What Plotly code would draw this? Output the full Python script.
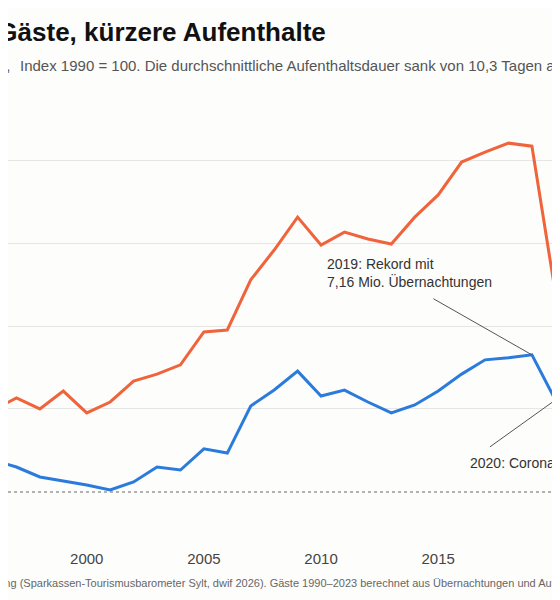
import plotly.graph_objects as go

years = list(range(1990, 2026))
# Index 1990 = 100
gaeste = [100, 105, 110, 115, 118, 122, 124.7, 128.3, 125.0, 130.4, 123.8, 127.1,
          133.4, 135.5, 138.3, 148.2, 148.8, 163.9, 172.9, 182.8, 174.4, 178.3,
          176.2, 174.7, 182.8, 189.5, 199.4, 202.4, 205.1, 204.2, 160.0, 185.0,
          210.0, 215.0, 220.0, 222.0]
uebernachtungen = [100, 104, 108, 112, 113, 111, 109.6, 107.5, 104.5, 103.3, 102.1,
                   100.6, 103.0, 107.5, 106.6, 113.0, 111.7, 125.9, 130.7, 136.4,
                   128.9, 130.7, 127.1, 123.8, 126.2, 130.4, 135.5, 139.8, 140.4,
                   141.3, 127.7, 136.0, 140.0, 139.0, 138.0, 137.0]

title = "Mehr Gäste, kürzere Aufenthalte"
sub_left = "Gäste und Übernachtungen,"
sub_right = "Index 1990 = 100. Die durchschnittliche Aufenthaltsdauer sank von 10,3 Tagen auf 6,6 Tage."
source = ("Quelle: Sylt Marketing (Sparkassen-Tourismusbarometer Sylt, dwif 2026). "
          "Gäste 1990–2023 berechnet aus Übernachtungen und Aufenthaltsdauer.")

W = 560
font = "Liberation Sans, Arial, sans-serif"

fig = go.Figure()
fig.add_trace(go.Scatter(x=years, y=gaeste, mode="lines", name="Gäste",
                         line=dict(color="#f0643c", width=3)))
fig.add_trace(go.Scatter(x=years, y=uebernachtungen, mode="lines", name="Übernachtungen",
                         line=dict(color="#2b7bdc", width=3)))

# Baseline 100
fig.add_hline(y=100, line=dict(color="#999999", width=1.5, dash="dot"), layer="below")

ann = []
ann.append(dict(text=f"<b>{title}</b>", xref="paper", yref="paper", x=320 / W, y=1.0,
                yshift=70, xanchor="right", yanchor="middle", showarrow=False,
                font=dict(size=26, color="#111111", family=font)))
ann.append(dict(text=sub_left, xref="paper", yref="paper", x=4 / W, y=1.0, yshift=37,
                xanchor="right", yanchor="middle", showarrow=False,
                font=dict(size=15, color="#555555", family=font)))
ann.append(dict(text=sub_right, xref="paper", yref="paper", x=10 / W, y=1.0, yshift=37,
                xanchor="left", yanchor="middle", showarrow=False,
                font=dict(size=15, color="#555555", family=font)))
ann.append(dict(text=source, xref="paper", yref="paper", x=-101 / W, y=0, yshift=-35,
                xanchor="left", yanchor="middle", showarrow=False,
                font=dict(size=11, color="#666666", family=font)))

# Callouts
ann.append(dict(text="2019: Rekord mit<br>7,16 Mio. Übernachtungen", x=2010.16, y=166,
                xanchor="left", yanchor="middle", align="left", showarrow=False,
                font=dict(size=14, color="#333333", family=font)))
ann.append(dict(text="", x=2019, y=uebernachtungen[years.index(2019)], ax=-100, ay=-57,
                showarrow=True, arrowhead=0, arrowwidth=1, arrowcolor="#555555"))
ann.append(dict(text="2020: Corona-Einbruch", x=2016.27, y=108.7,
                xanchor="left", yanchor="middle", showarrow=False,
                font=dict(size=14, color="#333333", family=font)))
ann.append(dict(text="", x=2020, y=uebernachtungen[years.index(2020)], ax=-67, ay=48,
                showarrow=True, arrowhead=0, arrowwidth=1, arrowcolor="#555555"))

fig.update_layout(
    width=W, height=600,
    margin=dict(l=0, r=0, t=94, b=60),
    paper_bgcolor="#fdfdfc", plot_bgcolor="#fdfdfc",
    showlegend=False,
    annotations=ann,
    font=dict(family=font),
)
fig.update_xaxes(range=[1996.64, 2020.54], tickvals=[2000, 2005, 2010, 2015, 2020],
                 showgrid=False, zeroline=False, showline=False, ticks="",
                 tickfont=dict(size=15, color="#444444"))
fig.update_yaxes(range=[83.1, 217.5], tickvals=[125, 150, 175, 200], showticklabels=False,
                 gridcolor="#e6e6e6", gridwidth=1, zeroline=False, showline=False)

fig.write_html("out.html")
